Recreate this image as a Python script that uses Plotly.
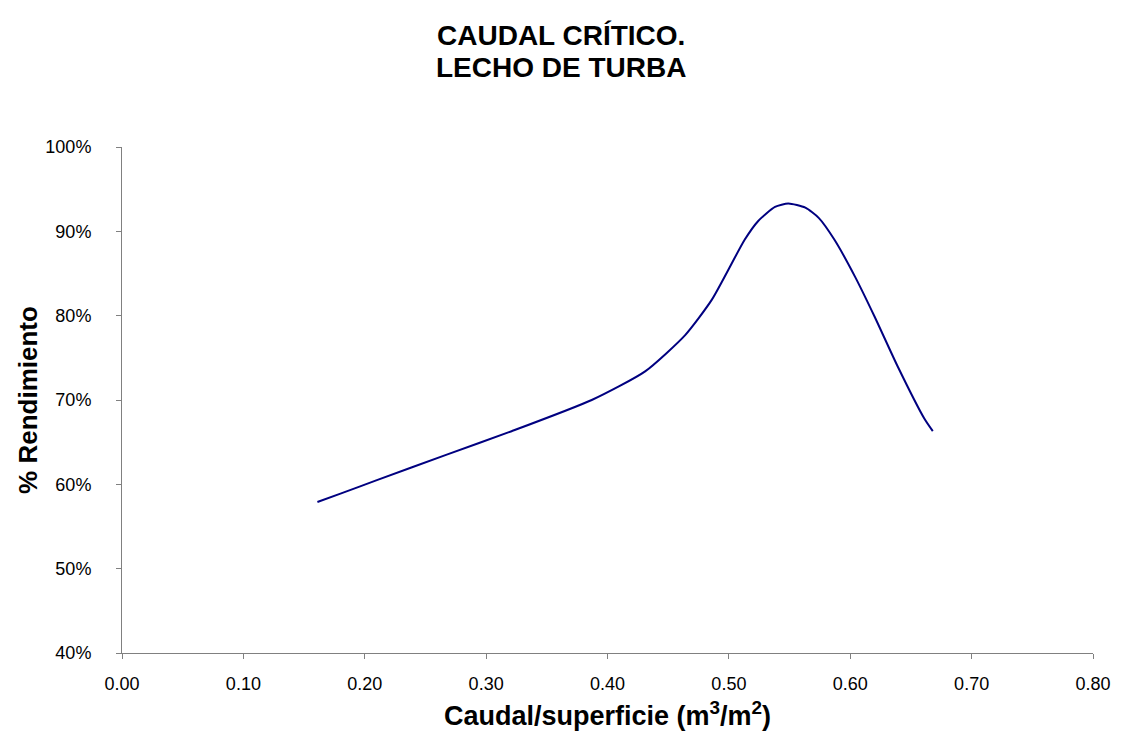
import plotly.graph_objects as go

# Data
caudal_superficie = [0.161, 0.180, 0.210, 0.267, 0.321, 0.387, 0.431, 0.464,
                     0.486, 0.513, 0.524, 0.538, 0.549, 0.563, 0.574, 0.587,
                     0.604, 0.620, 0.639, 0.661, 0.668]
rendimiento = [0.579, 0.589, 0.605, 0.635, 0.663, 0.700, 0.734, 0.777,
               0.819, 0.890, 0.912, 0.929, 0.933, 0.928, 0.916, 0.890,
               0.846, 0.799, 0.740, 0.678, 0.663]

x_ticks = [0.0, 0.1, 0.2, 0.3, 0.4, 0.5, 0.6, 0.7, 0.8]
y_ticks = [0.4, 0.5, 0.6, 0.7, 0.8, 0.9, 1.0]
title_lines = ["CAUDAL CRÍTICO.", "LECHO DE TURBA"]

FONT = "Liberation Sans, Arial, sans-serif"
W, H = 1123, 745
PLOT_LEFT, PLOT_RIGHT = 122, 1095
PLOT_TOP, PLOT_BOTTOM = 147, 653


def paper_y(py):
    return (PLOT_BOTTOM - py) / (PLOT_BOTTOM - PLOT_TOP)


def paper_x(px):
    return (px - PLOT_LEFT) / (PLOT_RIGHT - PLOT_LEFT)


fig = go.Figure()
fig.add_trace(go.Scatter(
    x=caudal_superficie, y=rendimiento, mode="lines",
    line=dict(color="#000080", width=2, shape="spline", smoothing=0.6),
    showlegend=False, hoverinfo="skip"))

fig.update_layout(
    width=W, height=H,
    paper_bgcolor="white", plot_bgcolor="white",
    margin=dict(l=PLOT_LEFT, r=W - PLOT_RIGHT, t=PLOT_TOP, b=H - PLOT_BOTTOM),
    font=dict(family=FONT, color="black", size=18),
)

for line, py in zip(title_lines, [36, 67]):
    fig.add_annotation(
        text=f"<b>{line}</b>", x=paper_x(W / 2), xref="paper", xanchor="center",
        y=paper_y(py), yref="paper", yanchor="middle", showarrow=False,
        font=dict(family=FONT, size=28, color="black"))

fig.update_xaxes(
    range=[0, 0.8], tickvals=x_ticks, tickformat=".2f",
    showgrid=False, zeroline=False,
    showline=True, linecolor="#808080", linewidth=1,
    ticks="outside", ticklen=5, tickcolor="#808080",
    ticklabelstandoff=9,
    tickfont=dict(family=FONT, size=18, color="black"),
    title=dict(text="<b>Caudal/superficie (m<sup>3</sup>/m<sup>2</sup>)</b>",
               font=dict(family=FONT, size=27, color="black"), standoff=13),
)
fig.update_yaxes(
    range=[0.4, 1.0], tickvals=y_ticks, tickformat=".0%",
    showgrid=False, zeroline=False,
    showline=True, linecolor="#808080", linewidth=1,
    ticks="outside", ticklen=5, tickcolor="#808080",
    ticklabelstandoff=21,
    tickfont=dict(family=FONT, size=18, color="black"),
    title=dict(text="<b>% Rendimiento</b>",
               font=dict(family=FONT, size=26, color="black"), standoff=0),
)

fig.write_html("out.html")
